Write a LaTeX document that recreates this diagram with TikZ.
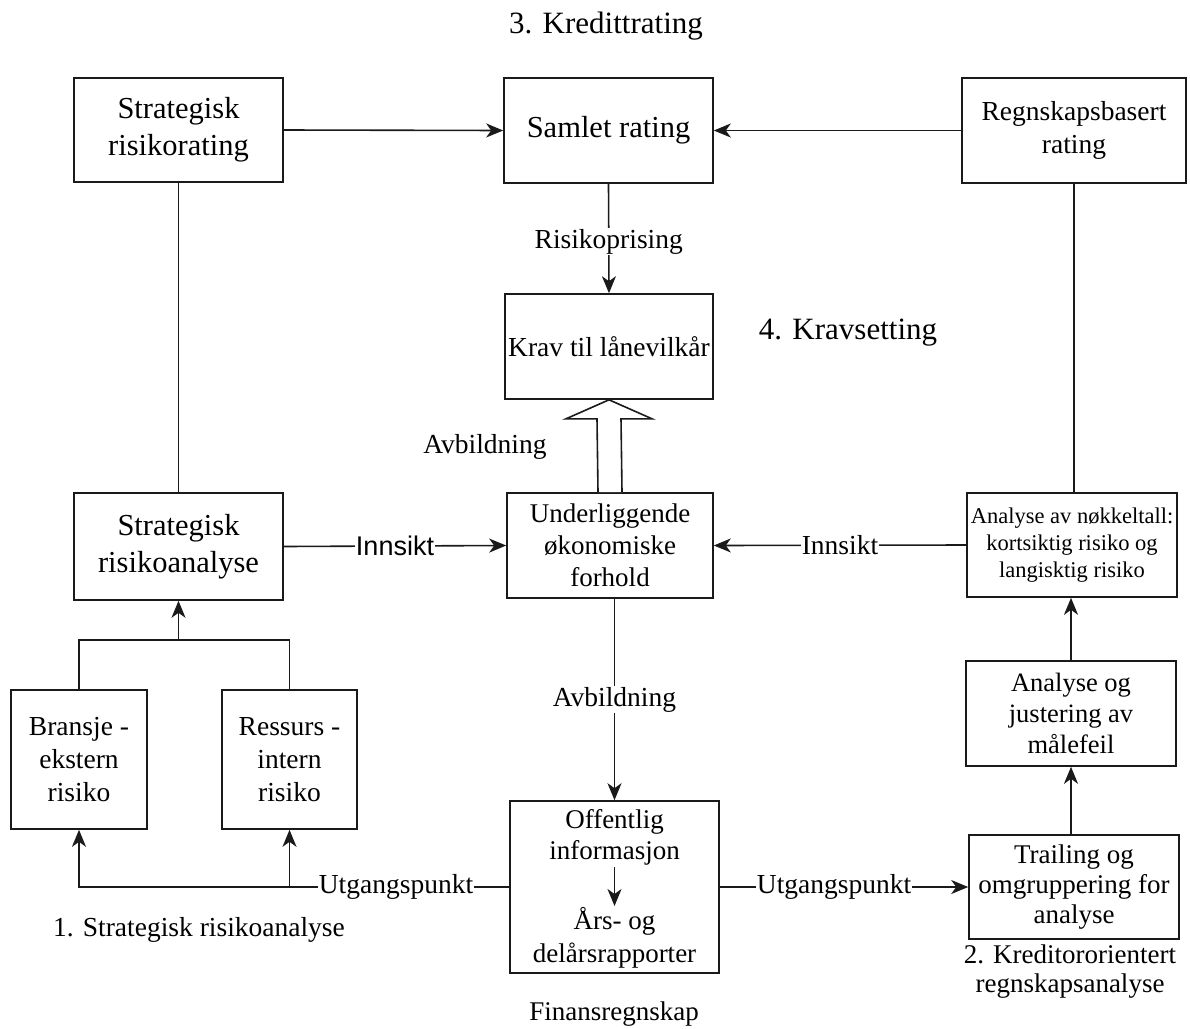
\documentclass[tikz,border=0pt]{standalone}
\usepackage{fontspec}
\setmainfont{Liberation Serif}
\newfontfamily\sansf{Liberation Sans}
\usetikzlibrary{arrows.meta,calc}
\newcommand\fsz[2]{\fontsize{#1}{#2}\selectfont}
\definecolor{lc}{HTML}{1A1A1A}
\tikzset{
  box/.style={draw=lc, line width=1.6pt, inner sep=0pt, align=center},
  conn/.style={draw=lc, line width=1.6pt},
  arr/.style={conn, -{Stealth[length=17pt,width=14pt,inset=5pt]}},
  lbl/.style={fill=white, inner sep=1pt, text=black},
  ttl/.style={inner sep=0pt, align=center}
}
\begin{document}
\begin{tikzpicture}[x=1pt,y=-1pt]
\useasboundingbox (0,0) rectangle (1190,1028);
\fill[white] (0,0) rectangle (1190,1028);

% titles
\node[ttl, font=\fsz{31}{37}] (t3) at (606,26) {3. Kredittrating};
\node[ttl, font=\fsz{31}{37}] (t4) at (848,333) {4. Kravsetting};
\node[ttl, font=\fsz{27.5}{32}] (t1) at (199,930) {1. Strategisk risikoanalyse};
\node[ttl, font=\fsz{27}{32}] (tf) at (614,1014) {Finansregnskap};
\node[ttl, font=\fsz{27}{29}] (t2) at (1070,972) {2. Kreditororientert\\regnskapsanalyse};

% boxes
\node[box, minimum width=209, minimum height=104, font=\fsz{30.5}{37}] (srr) at (178.5,130) {Strategisk\\risikorating};
\node[box, minimum width=209, minimum height=105, font=\fsz{30.5}{36}] (sam) at (608.5,130.5) {Samlet rating};
\node[box, minimum width=224, minimum height=105, font=\fsz{27.5}{33}] (reg) at (1074,130.5) {Regnskapsbasert\\rating};
\node[box, minimum width=208, minimum height=105, font=\fsz{27.5}{33}] (krav) at (609,346.5) {Krav til lånevilkår};
\node[box, minimum width=206, minimum height=105, font=\fsz{27}{32}] (und) at (610,545.5) {Underliggende\\økonomiske\\forhold};
\node[box, minimum width=209, minimum height=107, font=\fsz{30.5}{37}] (sra) at (178.5,546.5) {Strategisk\\risikoanalyse};
\node[box, minimum width=210, minimum height=104, font=\fsz{22.5}{27}] (ank) at (1072,545) {Analyse av nøkkeltall:\\kortsiktig risiko og\\langisktig risiko};
\node[box, minimum width=210, minimum height=105, font=\fsz{26.5}{31}] (ajm) at (1071,713.5) {Analyse og\\justering av\\målefeil};
\node[box, minimum width=210, minimum height=104, font=\fsz{27}{30}] (tra) at (1074,887) {Trailing og\\omgruppering for\\analyse};
\node[box, minimum width=136, minimum height=139, font=\fsz{27.5}{33}] (bra) at (79,759.5) {Bransje -\\ekstern\\risiko};
\node[box, minimum width=135, minimum height=139, font=\fsz{27.5}{33}] (res) at (289.5,759.5) {Ressurs -\\intern\\risiko};
\node[box, minimum width=209, minimum height=172] (ofi) at (614.5,887) {};
\node[ttl, font=\fsz{27}{31}] (ofa) at (614.5,837) {Offentlig\\informasjon};
\node[ttl, font=\fsz{27}{33}] (ofb) at (614.5,938) {Års- og\\delårsrapporter};
\coordinate (ia1) at (614.5,867);
\coordinate (ia2) at (614.5,906);
\draw[arr] (ia1) -- (ia2);

% top row
\draw[arr] (srr.east) -- (sam.west);
\draw[arr] (reg.west) -- (sam.east);
\draw[conn] (srr.south) -- (sra.north);
\draw[conn] (reg.south) -- (reg.south |- ank.north);
\draw[arr] (sam.south) -- node[lbl, font=\fsz{27.5}{33}, pos=0.53] {Risikoprising} (krav.north);

% hollow arrow
\draw[conn, fill=white, line join=miter]
  ($(und.north)+(-12,0)$) -- ($(krav.south)+(-12,19)$) -- ($(krav.south)+(-43,19)$)
  -- (krav.south) -- ($(krav.south)+(43,19)$) -- ($(krav.south)+(12,19)$) -- ($(und.north)+(12,0)$);
\node[ttl, font=\fsz{27.5}{33}] (avb1) at (485,447) {Avbildning};

% innsikt
\draw[arr] (sra.east) -- node[lbl, font=\sansf\fsz{27}{32}, pos=0.5] {Innsikt} (und.west);
\draw[arr] (ank.west) -- node[lbl, font=\fsz{27.5}{33}, pos=0.5] {Innsikt} (und.east);

% down to offentlig
\draw[arr] (und.south -| ofi.north) -- node[lbl, font=\fsz{27.5}{33}, pos=0.5] {Avbildning} (ofi.north);

% left branches
\coordinate (jtop) at (sra.south |- 0,640);
\draw[conn] (bra.north) -- (bra.north |- jtop) -- (res.north |- jtop) -- (res.north);
\draw[arr] (jtop) -- (sra.south);
\draw[arr] (ofi.west) -- (bra.south |- ofi.west) -- (bra.south);
\draw[arr] (res.south |- ofi.west) -- (res.south);
\node[lbl, font=\fsz{27.5}{33}] (utg1) at (396,887) {Utgangspunkt};

% right chain
\draw[arr] (ofi.east) -- node[lbl, font=\fsz{27.5}{33}, pos=0.46] {Utgangspunkt} (tra.west);
\draw[arr] (tra.north -| ajm.south) -- (ajm.south);
\draw[arr] (ajm.north) -- (ank.south -| ajm.north);
\end{tikzpicture}
\end{document}
